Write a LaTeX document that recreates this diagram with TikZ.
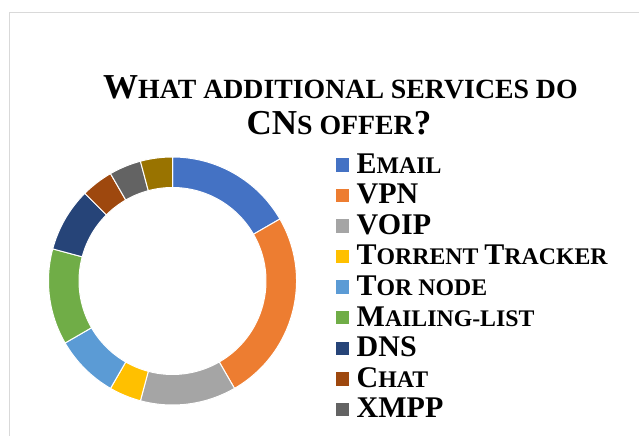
\documentclass[tikz,border=0pt]{standalone}
\usepackage{fontspec}
\setmainfont{Liberation Serif}
\usepackage{xcolor}
\usetikzlibrary{positioning, calc}

\definecolor{cEmail}{HTML}{4472C4}
\definecolor{cVPN}{HTML}{ED7D31}
\definecolor{cVOIP}{HTML}{A5A5A5}
\definecolor{cTorrent}{HTML}{FFC000}
\definecolor{cTor}{HTML}{5B9BD5}
\definecolor{cMail}{HTML}{70AD47}
\definecolor{cDNS}{HTML}{264478}
\definecolor{cChat}{HTML}{9E480E}
\definecolor{cXMPP}{HTML}{636363}
\definecolor{cOther}{HTML}{997300}
\definecolor{frameGray}{HTML}{D9D9D9}

% fake small caps sizes
\newcommand{\ttlbig}{\fontsize{35}{42}\selectfont}
\newcommand{\ttlsmall}{\fontsize{27.8}{42}\selectfont}
\newcommand{\legbig}{\fontsize{30}{35}\selectfont}
\newcommand{\legsmall}{\fontsize{23.8}{35}\selectfont}

\begin{document}
\begin{tikzpicture}[
    x=1pt, y=1pt,
    slice/.style={
        draw=white,
        line width=1pt
    },
    key/.style={
        rectangle,
        minimum size=13.5pt,
        inner sep=0pt
    },
    entry/.style={
        anchor=base west,
        inner sep=0pt,
        font=\bfseries
    },
    heading/.style={
        anchor=base,
        inner sep=0pt,
        font=\bfseries
    }
]
    \useasboundingbox (0,0) rectangle (639,436);

    % =========================================================
    % CHART AREA FRAME
    % =========================================================
    \coordinate (corner) at (9,423);
    \draw [frameGray, line width=1pt] (639,423) -- (corner) -- (9,0);

    % =========================================================
    % TITLE
    % =========================================================
    \node [heading] (title1) at (340.5,337) {\ttlbig W\ttlsmall HAT ADDITIONAL SERVICES DO};
    \node [heading] (title2) at (339,301.5) {\ttlbig CN\ttlsmall S OFFER\ttlbig ?};

    % =========================================================
    % DOUGHNUT RING
    % =========================================================
    \coordinate (ctr) at (172.5,155);
    \foreach \a/\b/\col in {90/30/cEmail, 30/-60/cVPN, -60/-105/cVOIP, -105/-120/cTorrent,
        -120/-150/cTor, -150/-195/cMail, -195/-225/cDNS, -225/-240/cChat,
        -240/-255/cXMPP, -255/-270/cOther}
        \fill [slice, fill=\col] ($(ctr)+(\a:124)$) arc[start angle=\a, end angle=\b, radius=124pt]
            -- ($(ctr)+(\b:93.5)$) arc[start angle=\b, end angle=\a, radius=93.5pt] -- cycle;

    % =========================================================
    % LEGEND
    % =========================================================
    \foreach \i/\col/\txt in {0/cEmail/{\legbig E\legsmall MAIL},
        1/cVPN/{\legbig VPN},
        2/cVOIP/{\legbig VOIP},
        3/cTorrent/{\legbig T\legsmall ORRENT \legbig T\legsmall RACKER},
        4/cTor/{\legbig T\legsmall OR NODE},
        5/cMail/{\legbig M\legsmall AILING-LIST},
        6/cDNS/{\legbig DNS},
        7/cChat/{\legbig C\legsmall HAT},
        8/cXMPP/{\legbig XMPP}} {
        \node [entry] (item\i) at (356.5,{262.7-30.55*\i}) {\txt};
        \node [key, fill=\col] (key\i) at (342.5,{271-30.55*\i}) {};
    }

\end{tikzpicture}
\end{document}
